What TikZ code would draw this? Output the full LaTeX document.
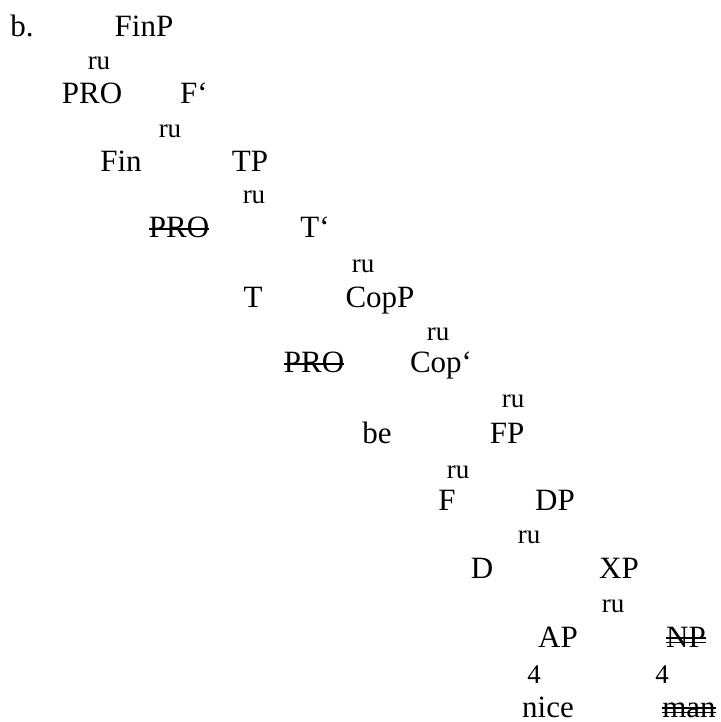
\documentclass[tikz,border=0pt]{standalone}
\usepackage{fontspec}
\setmainfont{Liberation Serif}
\usetikzlibrary{positioning}
\newcommand{\del}[1]{\setbox0\hbox{#1}\rlap{\rule[0.23em]{\wd0}{0.065em}}\box0}
\newcommand{\ddel}[1]{\setbox0\hbox{#1}\rlap{\rule[0.12em]{\wd0}{0.055em}}\rlap{\rule[0.26em]{\wd0}{0.055em}}\box0}

\begin{document}
\begin{tikzpicture}[x=0.5pt, y=-0.5pt,
      cat/.style={anchor=base, inner sep=0pt, font=\fontsize{15.5}{18}\selectfont},
      branch/.style={anchor=base, inner sep=0pt, font=\fontsize{13.5}{16}\selectfont},
      tri/.style={branch}
    ]
      \useasboundingbox (0,0) rectangle (720,722);

      % Label
      \node[cat] (ex) at (22,37) {b.};

      % Categories
      \node[cat] (finP) at (144,37) {FinP};
      \node[cat] (proA) at (92,104) {PRO};
      \node[cat] (fbar) at (194,104) {F`};
      \node[cat] (fin) at (121,171) {Fin};
      \node[cat] (tP) at (250,171) {TP};
      \node[cat] (proB) at (179,237) {\del{PRO}};
      \node[cat] (tbar) at (315,237) {T`};
      \node[cat] (t) at (253,307) {T};
      \node[cat] (copP) at (380,307) {CopP};
      \node[cat] (proC) at (314,372) {\del{PRO}};
      \node[cat] (copbar) at (441,372) {Cop`};
      \node[cat] (be) at (377,443) {be};
      \node[cat] (fP) at (507,443) {FP};
      \node[cat] (f) at (447,510) {F};
      \node[cat] (dP) at (555,510) {DP};
      \node[cat] (d) at (482,578) {D};
      \node[cat] (xP) at (619,578) {XP};
      \node[cat] (aP) at (558,647) {AP};
      \node[cat] (nP) at (686,647) {\ddel{NP}};
      \node[cat] (nice) at (548,717) {nice};
      \node[cat] (man) at (689,717) {\ddel{man}};

      % Branches
      \node[branch] (ruA) at (99,70) {ru};
      \node[branch] (ruB) at (170,137) {ru};
      \node[branch] (ruC) at (254,203) {ru};
      \node[branch] (ruD) at (363,272) {ru};
      \node[branch] (ruE) at (438,340) {ru};
      \node[branch] (ruF) at (513,407) {ru};
      \node[branch] (ruG) at (458,478) {ru};
      \node[branch] (ruH) at (529,543) {ru};
      \node[branch] (ruI) at (613,612) {ru};
      \node[tri] (triA) at (534,683) {4};
      \node[tri] (triB) at (662,683) {4};
    \end{tikzpicture}
\end{document}
